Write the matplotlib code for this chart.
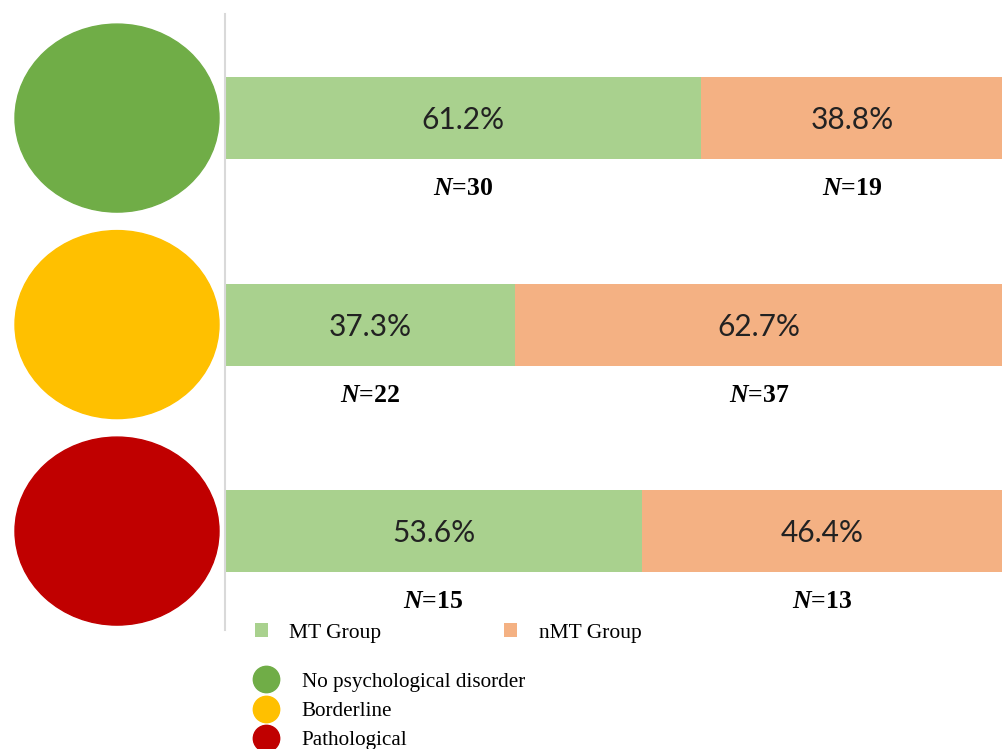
import matplotlib.pyplot as plt
from matplotlib.patches import Ellipse
from matplotlib.lines import Line2D
import numpy as np

plt.rcParams["mathtext.fontset"] = "custom"
plt.rcParams["mathtext.rm"] = "Liberation Serif:bold"
plt.rcParams["mathtext.bf"] = "Liberation Serif:bold"
plt.rcParams["mathtext.it"] = "Liberation Serif:italic"
plt.rcParams["mathtext.bfit"] = "Liberation Serif:italic:bold"

# data
categories = ["No psychological disorder", "Borderline", "Pathological"]
mt_pct = [61.2, 37.3, 53.6]
nmt_pct = [38.8, 62.7, 46.4]
mt_n = [30, 22, 15]
nmt_n = [19, 37, 13]
cat_colors = ["#70AD47", "#FFC000", "#C00000"]
mt_color = "#A9D18E"
nmt_color = "#F4B183"

W, H = 1003, 749
fig = plt.figure(figsize=(W / 100, H / 100), dpi=100)


def px_box(x0, y0, x1, y1):
    """Axes rect from pixel coords (top-left origin)."""
    return [x0 / W, 1 - y1 / H, (x1 - x0) / W, (y1 - y0) / H]


ax = fig.add_axes(px_box(225, 14, W, 630))
y = np.arange(len(categories))
bh = 82 / 206.5

ax.barh(y, mt_pct, height=bh, color=mt_color, label="MT Group")
ax.barh(y, nmt_pct, left=mt_pct, height=bh, color=nmt_color, label="nMT Group")
ax.set_xlim(0, 100)
ax.set_ylim(2.479, -0.504)

for i in range(len(categories)):
    xm = mt_pct[i] / 2
    xn = mt_pct[i] + nmt_pct[i] / 2
    ax.text(xm, i + 0.01, f"{mt_pct[i]:.1f}%", ha="center", va="center",
            fontsize=21.5, family="Lato", color="#222222")
    ax.text(xn, i + 0.01, f"{nmt_pct[i]:.1f}%", ha="center", va="center",
            fontsize=21.5, family="Lato", color="#222222")
    off = 70 / 206.5
    for xx, n in ((xm, mt_n[i]), (xn, nmt_n[i])):
        ax.text(xx, i + off, rf"$\mathbfit{{N}}\text{{={n}}}$",
                ha="center", va="center", fontsize=18.5)

for s in ["top", "right", "bottom"]:
    ax.spines[s].set_visible(False)
ax.spines["left"].set_color("#D9D9D9")
ax.spines["left"].set_linewidth(1.5)
ax.set_xticks([])
ax.set_yticks([])

# circles on the left, sharing the bar y scale
cax = fig.add_axes(px_box(0, 14, 225, 630), sharey=ax)
cax.set_xlim(0, 225)
for i, c in enumerate(cat_colors):
    cax.add_patch(Ellipse((117, i), 204, 188 / 206.5, color=c))
cax.axis("off")

# legends
leg1 = fig.legend(loc="center left", bbox_to_anchor=(255 / W, 1 - 633 / H),
                  ncol=2, frameon=False, borderpad=0, borderaxespad=0,
                  handlelength=0.6, handleheight=0.6, handletextpad=1.0,
                  columnspacing=5.7,
                  prop={"family": "Liberation Serif", "size": 15.5})
handles = [Line2D([], [], ls="none", marker="o", markersize=19, color=c)
           for c in cat_colors]
leg2 = fig.legend(handles, categories, loc="upper left",
                  bbox_to_anchor=(252 / W, 1 - 672 / H), frameon=False,
                  borderpad=0, borderaxespad=0, handlelength=1.3,
                  handletextpad=1.05, labelspacing=0.45,
                  prop={"family": "Liberation Serif", "size": 15.2})

fig.savefig("out.png", dpi=100)
